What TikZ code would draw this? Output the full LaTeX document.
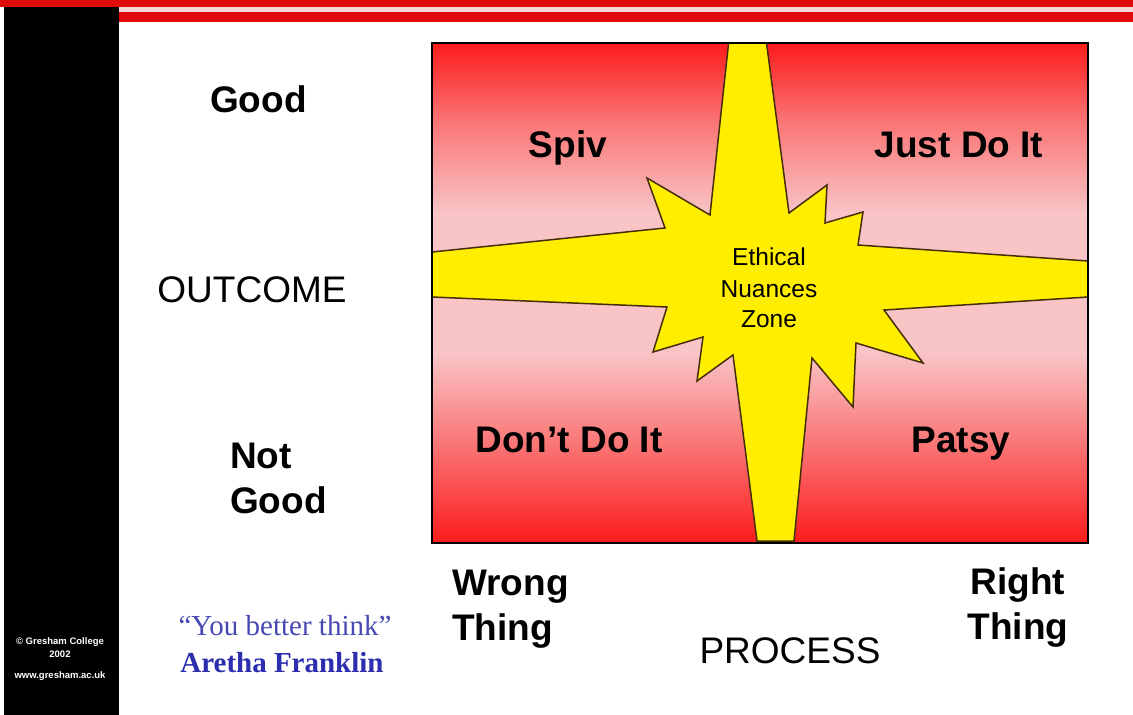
\documentclass[tikz,border=0pt]{standalone}
\usepackage{fontspec}
\setmainfont{Liberation Sans}
\newfontfamily\quoteserif{Liberation Serif}
\definecolor{barred}{RGB}{224,12,12}
\definecolor{gappink}{RGB}{246,214,214}
\definecolor{boxred}{RGB}{252,28,28}
\definecolor{boxmid}{RGB}{250,118,118}
\definecolor{boxpink}{RGB}{248,196,198}
\definecolor{staryellow}{RGB}{255,238,0}
\definecolor{staredge}{RGB}{70,45,10}
\definecolor{quoteblue}{RGB}{72,72,180}
\definecolor{nameblue}{RGB}{45,45,175}
\pgfdeclareverticalshading{boxshade}{100bp}{color(0bp)=(boxred); color(25bp)=(boxred); color(35bp)=(boxmid); color(44bp)=(boxpink); color(58bp)=(boxpink); color(67bp)=(boxmid); color(75bp)=(boxred); color(100bp)=(boxred)}
\begin{document}
\begin{tikzpicture}[x=1pt,y=-1pt,
  biglab/.style={font=\fontsize{37}{44}\selectfont\bfseries, inner sep=0pt, anchor=base},
  axislab/.style={font=\fontsize{37}{44}\selectfont, inner sep=0pt, anchor=base},
  zonelab/.style={font=\fontsize{24.5}{30}\selectfont, inner sep=0pt, anchor=base},
  copylab/.style={font=\fontsize{9.5}{11}\selectfont\bfseries, text=white, inner sep=0pt, anchor=base},
  starshape/.style={fill=staryellow, draw=staredge, line width=1.5pt, line join=miter}
]
\useasboundingbox (0,0) rectangle (1133,715);
\fill[white] (0,0) rectangle (1133,715);
% top bars
\fill[barred] (0,0) rectangle (1133,7.3);
\fill[gappink] (119,7.3) rectangle (1133,12.3);
\fill[barred] (119,12.3) rectangle (1133,21.7);
% black side bar
\fill[black] (4,7.3) rectangle (119,715);
% matrix box
\path[shading=boxshade] (432,43) rectangle (1088,543);
% star
\draw[starshape] (728.6,43) -- (766.5,43) -- (789,213) -- (827,185) -- (825,223) -- (863,212)
  -- (858,245) -- (1088,261) -- (1088,297) -- (884,310) -- (923,363) -- (856,343)
  -- (853,407) -- (812,358) -- (794,541) -- (757,541) -- (733,355) -- (697,381)
  -- (703,337) -- (653,352) -- (667,307) -- (432,297) -- (432,252) -- (665,228)
  -- (647,178) -- (710,215) -- cycle;
\draw[black, line width=1.6pt] (432,43) rectangle (1088,543);
% axis labels
\node[biglab] (good) at (258.5,112) {Good};
\node[axislab] (outcome) at (252,302) {OUTCOME};
\node[biglab, anchor=base west] (notgood1) at (230,468) {Not};
\node[biglab, anchor=base west] (notgood2) at (230,513) {Good};
\node[biglab, anchor=base west] (wrong1) at (452,595) {Wrong};
\node[biglab, anchor=base west] (wrong2) at (452,640) {Thing};
\node[biglab] (right1) at (1018,594) {Right};
\node[biglab] (right2) at (1018,639) {Thing};
\node[axislab] (process) at (790,663) {PROCESS};
% quadrant labels
\node[biglab] (spiv) at (568,157) {Spiv};
\node[biglab] (justdo) at (959,157) {Just Do It};
\node[biglab] (dontdo) at (569,452) {Don’t Do It};
\node[biglab] (patsy) at (961,452) {Patsy};
% zone
\node[zonelab] (zone1) at (769,265) {Ethical};
\node[zonelab] (zone2) at (769,297) {Nuances};
\node[zonelab] (zone3) at (769,327) {Zone};
% quote
\node[inner sep=0pt, anchor=base, text=quoteblue, font=\quoteserif\fontsize{29}{34}\selectfont] (quote) at (285,635) {“You better think”};
\node[inner sep=0pt, anchor=base, text=nameblue, font=\quoteserif\fontsize{29}{34}\selectfont\bfseries] (aretha) at (282,672) {Aretha Franklin};
% copyright
\node[copylab] (copy1) at (60,644) {© Gresham College};
\node[copylab] (copy2) at (60,657) {2002};
\node[copylab] (copy3) at (60,678) {www.gresham.ac.uk};
\end{tikzpicture}
\end{document}
